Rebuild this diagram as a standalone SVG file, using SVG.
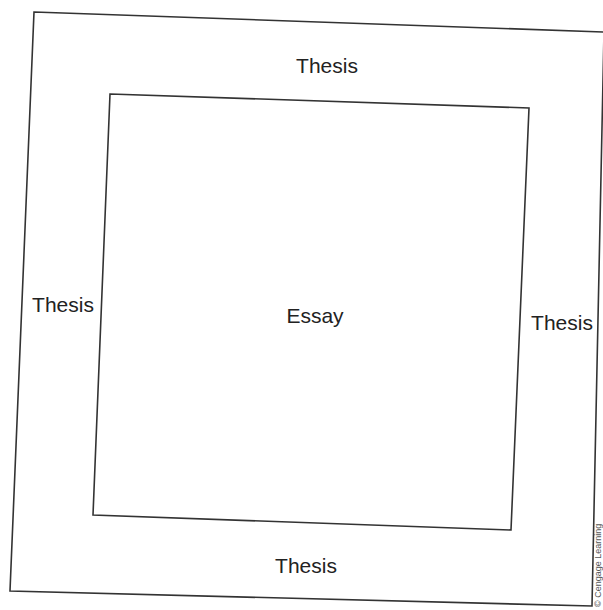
<svg xmlns="http://www.w3.org/2000/svg" width="603" height="610" viewBox="0 0 603 610">
<style>
.box{fill:none;stroke:#333;stroke-width:1.6;stroke-linejoin:miter}
.lbl{font-family:"Liberation Sans",Arial,sans-serif;font-size:21px;fill:#222;text-anchor:middle}
.copy{font-family:"Liberation Sans",Arial,sans-serif;font-size:9px;fill:#555}
</style>
<rect width="603" height="610" fill="#fff"/>
<g id="outer">
<polygon class="box" points="34,12 604,32 592,606 10,591"/>
</g>
<g id="inner">
<polygon class="box" points="110,94 529,108 511,530 93,515"/>
<text class="lbl" x="315" y="323">Essay</text>
</g>
<g id="thesis-top"><text class="lbl" x="327" y="73">Thesis</text></g>
<g id="thesis-left"><text class="lbl" x="63" y="312">Thesis</text></g>
<g id="thesis-right"><text class="lbl" x="562" y="330">Thesis</text></g>
<g id="thesis-bottom"><text class="lbl" x="306" y="573">Thesis</text></g>
<g id="connectors"></g>
<text class="copy" transform="translate(600.5,607) rotate(-90)">© Cengage Learning</text>
</svg>
